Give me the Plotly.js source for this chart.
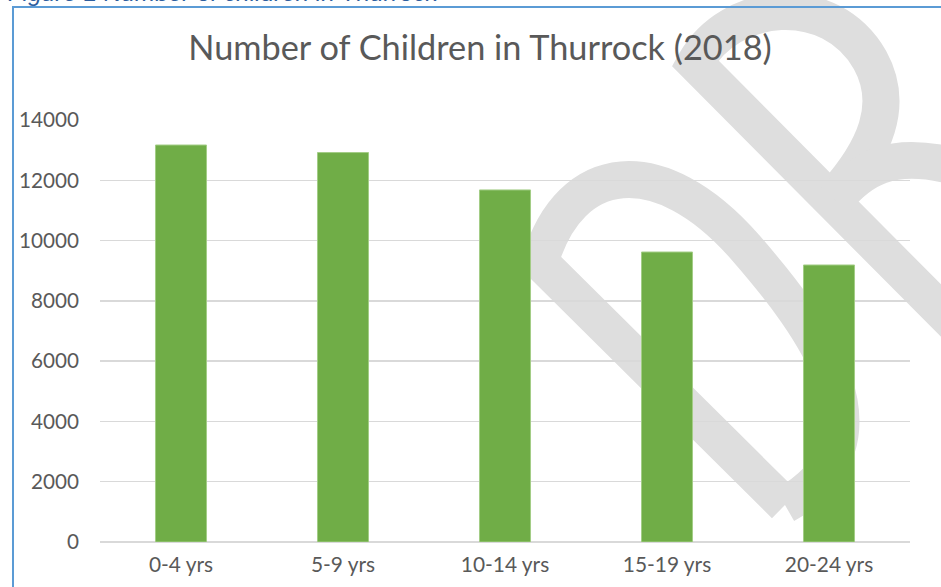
<!DOCTYPE html>
<html><head><meta charset="utf-8">
<script src="https://cdn.plot.ly/plotly-3.0.1.min.js"></script>
<style>html,body{margin:0;padding:0;background:#fff;} #chart{width:941px;height:587px;}</style>
</head><body><div id="chart"></div>
<script>
// ---- data ----
const categories = ['0-4 yrs', '5-9 yrs', '10-14 yrs', '15-19 yrs', '20-24 yrs'];
const children = [13170, 12920, 11680, 9620, 9190];
const yTickVals = [0, 2000, 4000, 6000, 8000, 10000, 12000, 14000];
const yTickText = ['0', '2000', '4000', '6000', '8000', '10000', '12000', '14000'];
const titleText = 'Number of Children in Thurrock (2018)';
const captionText = 'Figure 1 Number of children in Thurrock';

// ---- layout helpers ----
const W = 941, H = 587, M = {l: 100, r: 31, t: 120, b: 45};
const PW = W - M.l - M.r, PH = H - M.t - M.b;
const FONT = 'Lato, "Open Sans", sans-serif';
const TEXT = '#595959';
function fit(text, family, px, target) {
  const c = document.createElement('canvas').getContext('2d');
  c.font = px + 'px ' + family;
  return px * target / c.measureText(text).width;
}
const px2x = x => (x - M.l) / PW;
const px2y = y => 1 - (y - M.t) / PH;
function path(cmds) {
  return cmds.map(c => {
    let s = c[0];
    for (let i = 1; i < c.length; i += 2) s += ' ' + px2x(c[i]).toFixed(5) + ',' + px2y(c[i + 1]).toFixed(5);
    return s;
  }).join(' ');
}
const wm = {color: '#dedede', width: 37};
const wmShape = p => ({type: 'path', xref: 'paper', yref: 'paper', layer: 'below', path: path(p),
  line: wm, fillcolor: 'rgba(0,0,0,0)'});

const shapes = [
  // watermark "D"
  wmShape([['M', 785, 505], ['L', 540, 262], ['C', 570, 160, 660, 150, 745, 247], ['C', 813, 325, 900, 440, 785, 505]]),
  // watermark "R"
  wmShape([['M', 1000, 370], ['L', 695, 63], ['C', 730, 0, 830, -10, 870, 60], ['C', 895, 105, 875, 150, 835, 195]]),
  wmShape([['M', 835, 200], ['C', 860, 170, 890, 148, 960, 168]]),
  // frame
  {type: 'path', xref: 'paper', yref: 'paper', layer: 'above',
   path: path([['M', 13, 600], ['L', 13, 7], ['L', 960, 7]]),
   line: {color: '#5b9bd5', width: 2}}
];

const titleSize = fit(titleText, FONT, 26, 586);
const yTickSize = fit('14000', FONT, 20, 60);
const xTickSize = fit('10-14 yrs', FONT, 20, 89);
const capFont = '"Liberation Sans", Arial, sans-serif';
const capSize = fit(captionText, capFont, 24, 430);

const data = [{
  type: 'bar',
  x: categories,
  y: children,
  marker: {color: '#70ad47', line: {color: '#a3cd86', width: 1}},
  hoverinfo: 'x+y'
}];

const layout = {
  width: W, height: H,
  margin: {l: M.l, r: M.r, t: M.t, b: M.b, pad: 0},
  paper_bgcolor: '#ffffff',
  plot_bgcolor: 'rgba(0,0,0,0)',
  showlegend: false,
  bargap: 0.685,
  title: {
    text: titleText,
    x: 480 / W, xref: 'container', xanchor: 'center',
    y: 1 - 48 / H, yref: 'container', yanchor: 'middle',
    font: {family: FONT, size: titleSize, color: TEXT}
  },
  xaxis: {
    type: 'category',
    showgrid: false, showline: false, zeroline: false,
    ticks: '',
    ticklabelstandoff: 8,
    tickfont: {family: FONT, size: xTickSize, color: TEXT},
    fixedrange: true
  },
  yaxis: {
    range: [0, 14000],
    tickvals: yTickVals, ticktext: yTickText,
    showgrid: true, gridcolor: '#d9d9d9', gridwidth: 1.5,
    zeroline: true, zerolinecolor: '#d9d9d9', zerolinewidth: 2,
    showline: false, ticks: '',
    ticklabelstandoff: 20,
    tickfont: {family: FONT, size: yTickSize, color: TEXT},
    fixedrange: true
  },
  shapes: shapes,
  annotations: [{
    text: '<i>' + captionText + '</i>',
    xref: 'paper', yref: 'paper',
    x: px2x(6), xanchor: 'left',
    y: px2y(8), yanchor: 'bottom',
    showarrow: false,
    font: {family: capFont, size: capSize, color: '#2e5e9e'}
  }]
};

Plotly.newPlot('chart', data, layout, {displayModeBar: false, staticPlot: true});
</script>
</body></html>
